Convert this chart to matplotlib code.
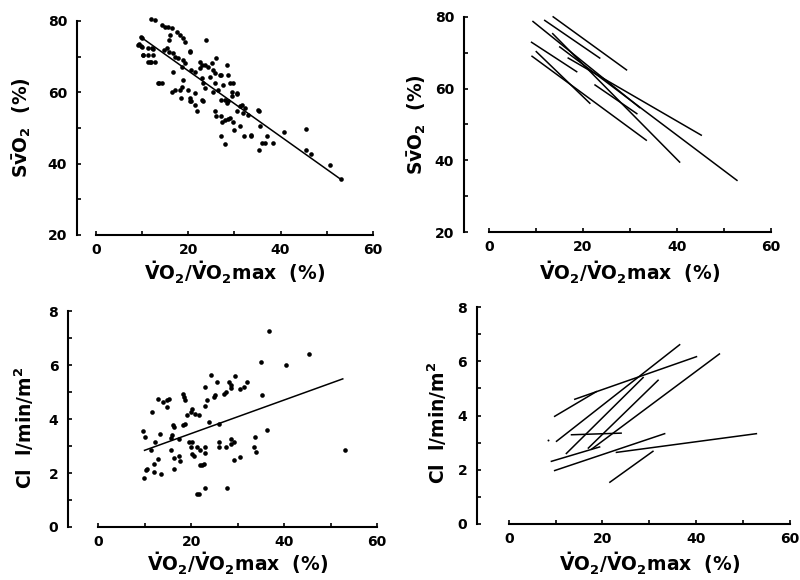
import matplotlib
matplotlib.use("Agg")
import matplotlib.pyplot as plt
import numpy as np
from matplotlib.ticker import MultipleLocator

plt.rcParams['font.family'] = ['DejaVu Sans']
plt.rcParams['font.weight'] = 'bold'
plt.rcParams['mathtext.default'] = 'regular'

# --- SvO2 vs VO2/VO2max, pooled points (top left)
svo2_x = [9.7, 9.4, 9.7, 10.2, 11.2, 12.0, 12.8, 12.0, 11.3, 12.3, 12.1, 12.8, 13.7, 14.2,
          14.2, 14.9, 15.7, 16.4, 17.5, 18.2, 18.9, 19.3, 16.0, 15.9, 9.9, 23.8, 9.2, 9.9,
          11.2, 12.3, 15.3, 15.9, 10.2, 11.7, 16.7, 17.1, 17.8, 18.9, 19.3, 20.4, 16.7, 18.6,
          20.7, 21.4, 22.5, 22.9, 22.5, 23.6, 24.3, 25.1, 26.1, 25.4, 26.9, 28.3, 24.7, 22.9,
          23.2, 23.6, 18.9, 18.6, 18.2, 13.5, 16.4, 17.1, 20.0, 20.4, 20.7, 21.4, 21.8, 21.4,
          22.9, 25.4, 26.5, 25.8, 27.6, 29.0, 29.4, 30.5, 27.9, 28.7, 31.2, 31.9, 35.2, 25.8,
          26.1, 27.2, 27.9, 29.0, 25.8, 27.2, 28.7, 23.1, 29.7, 30.5, 27.2, 28.3, 29.4, 31.6,
          32.3, 30.5, 33.0, 35.4, 27.4, 28.7, 29.6, 31.2, 30.0, 35.5, 27.2, 27.9, 32.1, 33.7,
          33.5, 37.0, 35.9, 36.6, 38.3, 35.4, 40.7, 45.5, 45.6, 46.7, 50.7, 53.2, 14.8, 20.3,
          18.5, 20.3]
svo2_y = [75.5, 73.4, 72.9, 70.5, 68.5, 68.5, 68.5, 80.5, 70.5, 70.5, 72.3, 80.3, 62.6, 62.6,
          78.9, 78.4, 78.4, 77.9, 77.0, 76.1, 75.3, 74.2, 76.1, 74.7, 75.3, 74.7, 73.3, 72.8,
          72.3, 72.0, 72.3, 71.4, 70.5, 68.6, 70.9, 70.0, 69.5, 69.0, 68.1, 71.4, 65.8, 67.2,
          66.3, 65.8, 68.6, 67.7, 66.7, 67.7, 67.2, 68.1, 69.5, 66.3, 64.8, 67.7, 64.4, 63.9,
          62.5, 61.1, 63.5, 61.6, 60.6, 62.5, 60.2, 60.6, 60.6, 58.3, 57.4, 56.5, 54.6, 59.7,
          57.9, 60.2, 60.6, 62.5, 62.1, 62.5, 60.2, 59.7, 57.9, 57.4, 56.0, 54.1, 55.0, 54.6,
          53.2, 53.2, 52.2, 52.7, 65.4, 64.7, 64.7, 57.5, 62.6, 59.6, 57.7, 57.0, 58.9, 56.5,
          55.6, 54.7, 53.7, 54.7, 51.6, 52.5, 51.6, 50.6, 49.5, 50.6, 47.6, 45.6, 47.6, 48.1,
          47.6, 47.6, 45.8, 45.8, 45.8, 43.7, 48.8, 49.7, 43.7, 42.8, 39.7, 35.8, 71.9, 71.5,
          58.4, 57.4]
svo2_fit = (-0.92, 84.4)      # slope, intercept
svo2_fit_range = (9.7, 53.0)

# --- SvO2 individual regression lines (top right): x0, y0, x1, y1
svo2_lines = [
    (13.7, 80.0, 29.3, 65.2),
    (11.9, 79.0, 23.6, 68.5),
    (9.4, 78.7, 32.1, 54.7),
    (13.6, 75.3, 40.6, 39.5),
    (15.1, 71.6, 52.8, 34.4),
    (16.9, 68.5, 45.2, 47.0),
    (9.1, 72.9, 18.7, 64.7),
    (9.2, 69.0, 33.5, 45.6),
    (10.1, 70.3, 21.5, 55.9),
    (22.6, 61.0, 31.5, 53.0),
]

# --- cardiac index vs VO2/VO2max, pooled points (bottom left)
ci_x = [9.7, 10.0, 9.8, 10.3, 10.5, 11.6, 11.4, 12.2, 12.0, 12.0, 12.8, 13.3, 13.0, 13.5,
        13.9, 14.8, 15.2, 14.8, 15.7, 15.9, 16.1, 16.3, 15.7, 16.3, 16.4, 17.3, 17.3, 17.7,
        18.3, 18.4, 18.8, 18.3, 18.8, 19.1, 19.9, 20.2, 19.5, 20.2, 19.9, 20.2, 20.6, 20.9,
        21.6, 21.3, 22.0, 21.3, 21.6, 22.0, 22.4, 22.7, 22.9, 23.1, 22.9, 23.1, 22.9, 23.4,
        23.8, 24.2, 24.9, 25.2, 25.6, 25.9, 25.9, 25.9, 27.0, 27.4, 28.1, 28.5, 28.5, 27.7,
        27.6, 28.5, 28.5, 29.2, 29.5, 29.2, 30.6, 31.3, 32.0, 30.6, 33.5, 33.8, 34.0, 35.1,
        35.3, 36.3, 36.7, 40.3, 45.3, 53.0]
ci_y = [3.56, 3.33, 1.83, 2.10, 2.16, 4.26, 2.84, 3.15, 2.35, 2.04, 4.75, 3.46, 2.53, 1.95,
        4.65, 4.70, 4.75, 4.44, 3.30, 3.40, 3.77, 3.70, 2.84, 2.16, 2.55, 3.27, 2.65, 2.44,
        4.94, 4.81, 4.69, 3.77, 3.83, 4.14, 4.26, 4.38, 3.15, 3.15, 2.96, 2.72, 2.65, 4.20,
        4.17, 2.96, 2.86, 1.23, 1.23, 2.28, 2.28, 2.32, 2.96, 2.74, 4.47, 5.19, 1.46, 4.69,
        3.89, 5.62, 4.81, 4.88, 5.37, 3.83, 3.15, 2.96, 4.94, 5.00, 5.37, 5.25, 5.16, 1.46,
        2.96, 3.27, 3.09, 3.15, 5.58, 2.47, 5.12, 5.19, 5.37, 2.59, 2.96, 3.33, 2.78, 6.11,
        4.88, 3.58, 7.28, 5.99, 6.40, 2.86]
ci_fit = (0.0622, 2.22)
ci_fit_range = (10.0, 52.6)

# --- cardiac index individual regression lines (bottom right)
ci_lines = [
    (9.8, 3.97, 18.7, 4.88),
    (14.1, 4.60, 40.1, 6.17),
    (10.2, 3.05, 36.5, 6.61),
    (12.3, 2.60, 28.7, 5.40),
    (17.0, 2.80, 31.9, 5.30),
    (17.7, 2.76, 45.0, 6.27),
    (13.4, 3.29, 24.0, 3.35),
    (9.1, 2.31, 19.4, 2.84),
    (9.8, 1.97, 33.3, 3.33),
    (23.0, 2.64, 52.9, 3.33),
    (21.6, 1.54, 30.8, 2.68),
]
ci_stray = (8.4, 3.10)

XLABEL = r'$\dot{V}$O$_2$/$\dot{V}$O$_2$max  (%)'
SV_LABEL = r'S$\bar{v}$O$_2$  (%)'
CI_LABEL = r'Cl  l/min/m$^2$'

fig = plt.figure(figsize=(8, 5.8), dpi=100)
ax_tl = fig.add_axes([0.120, 0.595, 0.346, 0.369])
ax_tr = fig.add_axes([0.611, 0.600, 0.3525, 0.371])
ax_bl = fig.add_axes([0.1225, 0.0914, 0.349, 0.372])
ax_br = fig.add_axes([0.636, 0.0966, 0.351, 0.374])


def style(ax, ylim, ymajor, yminor, offset, xlab_y, ylab_x, ylabel, ylab_y=0.5):
    ax.set_xlim(0, 60)
    ax.set_ylim(*ylim)
    for s in ('top', 'right'):
        ax.spines[s].set_visible(False)
    ax.spines['left'].set_position(('outward', offset))
    ax.spines['left'].set_bounds(*ylim)
    ax.spines['bottom'].set_bounds(0, 60)
    for s in ('left', 'bottom'):
        ax.spines[s].set_linewidth(1.5)
    ax.xaxis.set_major_locator(MultipleLocator(20))
    ax.xaxis.set_minor_locator(MultipleLocator(10))
    ax.yaxis.set_major_locator(MultipleLocator(ymajor))
    ax.yaxis.set_minor_locator(MultipleLocator(yminor))
    ax.tick_params(which='both', direction='in', width=1.2, labelsize=10)
    ax.tick_params(which='both', length=3)
    ax.tick_params(axis='x', pad=6)
    ax.tick_params(axis='y', pad=7)
    for t in ax.get_xticklabels() + ax.get_yticklabels():
        t.set_fontweight('bold')
    ax.set_xlabel(XLABEL, fontsize=13.5, fontweight='bold', va='baseline')
    ax.xaxis.set_label_coords(0.5, xlab_y)
    ax.set_ylabel(ylabel, fontsize=13.5, fontweight='bold', va='center')
    ax.yaxis.set_label_coords(ylab_x, ylab_y)


# top left: pooled SvO2 points with common regression
ax_tl.scatter(svo2_x, svo2_y, s=11, color='black', linewidths=0, clip_on=False)
xf = np.array(svo2_fit_range)
ax_tl.plot(xf, svo2_fit[0] * xf + svo2_fit[1], color='black', lw=1.1)
style(ax_tl, (20, 80), 20, 10, 13.7, -0.214, -0.267, SV_LABEL)

# top right: per-subject SvO2 regressions
for x0, y0, x1, y1 in svo2_lines:
    ax_tr.plot([x0, x1], [y0, y1], color='black', lw=1.1, clip_on=False)
style(ax_tr, (20, 80), 20, 10, 18.0, -0.227, -0.255, SV_LABEL)

# bottom left: pooled CI points with common regression
ax_bl.scatter(ci_x, ci_y, s=11, color='black', linewidths=0, clip_on=False)
xf = np.array(ci_fit_range)
ax_bl.plot(xf, ci_fit[0] * xf + ci_fit[1], color='black', lw=1.1)
style(ax_bl, (0, 8), 2, 1, 21.6, -0.205, -0.265, CI_LABEL, 0.46)

# bottom right: per-subject CI regressions
for x0, y0, x1, y1 in ci_lines:
    ax_br.plot([x0, x1], [y0, y1], color='black', lw=1.1)
ax_br.scatter([ci_stray[0]], [ci_stray[1]], s=2, color='black', linewidths=0)
style(ax_br, (0, 8), 2, 1, 23.0, -0.218, -0.256, CI_LABEL, 0.465)

fig.savefig('out.png', dpi=100)
